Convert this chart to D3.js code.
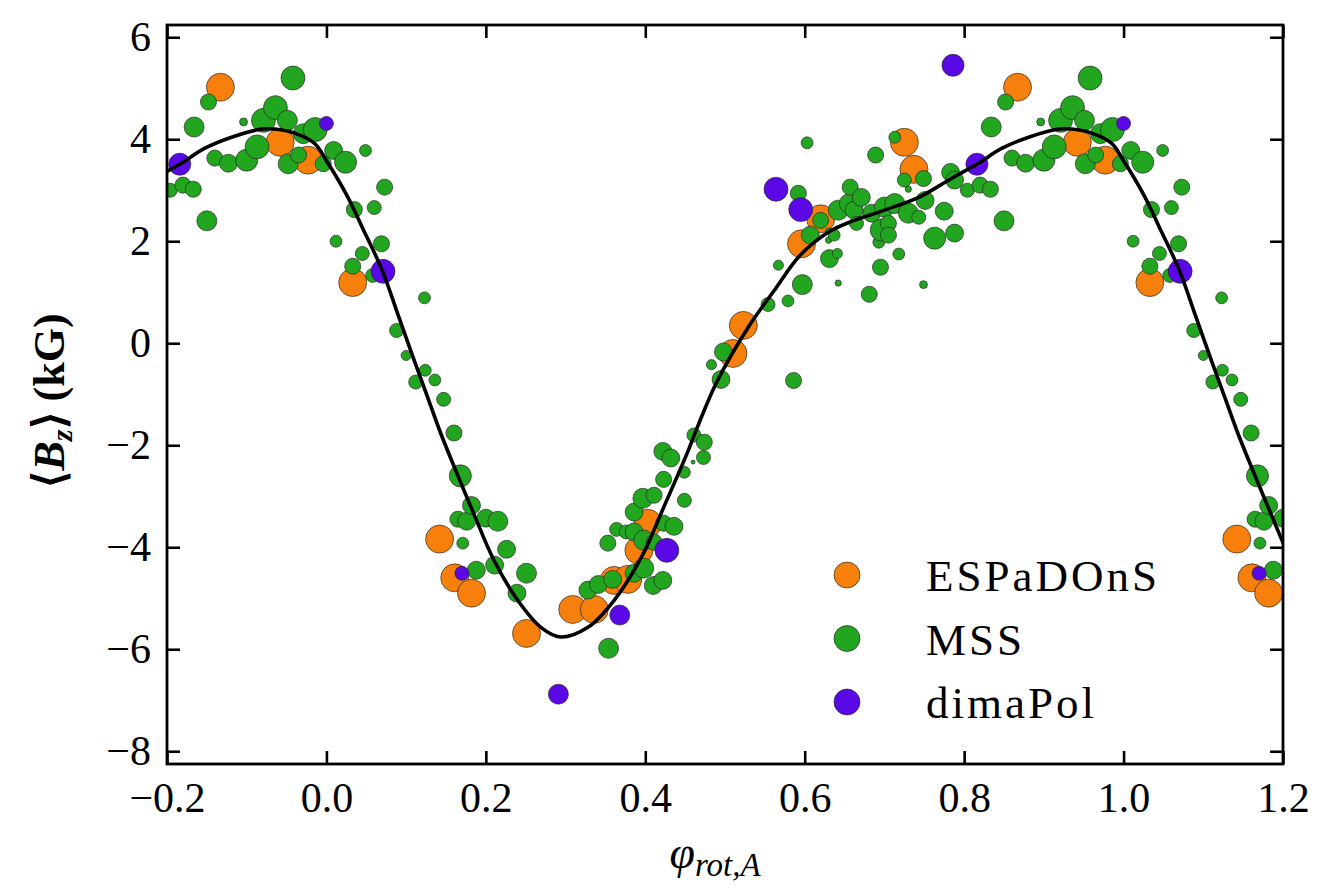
<!DOCTYPE html>
<html lang="en">
<head>
<meta charset="UTF-8">
<title>Bz rotation phase curve</title>
<script src="https://cdnjs.cloudflare.com/ajax/libs/d3/7.8.5/d3.min.js"></script>
<style>
body { margin: 0; background: #fff; }
.axis text { font-family: "Liberation Serif", serif; font-size: 42px; fill: #000; }
.axis line { stroke: #000; stroke-width: 2.6px; }
.axis path { display: none; }
.lbl { font-family: "Liberation Serif", serif; fill: #000; }
</style>
</head>
<body>
<script>

// rotation phase, <Bz> (kG) and relative weight of each measurement (phase folded into 0..1)
var espPhase = [0.033, 0.142, 0.161, 0.182, 0.251, 0.309, 0.336, 0.361, 0.378, 0.392,
                0.403, 0.510, 0.523, 0.596, 0.620, 0.725, 0.737, 0.867, 0.942, 0.977];
var espBz    = [1.19, -3.84, -4.60, -4.90, -5.69, -5.22, -5.22, -4.65, -4.63, -4.06,
                -3.53, -0.20, 0.35, 1.95, 2.44, 3.94, 3.41, 5.02, 3.94, 3.59];
var espW     = [100, 100, 100, 100, 100, 100, 100, 100, 100, 100,
                100, 100, 100, 100, 100, 100, 100, 100, 100, 100];

var mssPhase = [0.009, 0.012, 0.024, 0.033, 0.035, 0.045, 0.049, 0.058, 0.060, 0.069,
                0.073, 0.088, 0.100, 0.112, 0.123, 0.124, 0.136, 0.147, 0.160, 0.165,
                0.168, 0.171, 0.176, 0.182, 0.188, 0.200, 0.211, 0.215, 0.226, 0.239,
                0.251, 0.328, 0.341, 0.353, 0.354, 0.359, 0.364, 0.376, 0.386, 0.386,
                0.386, 0.397, 0.398, 0.398, 0.410, 0.411, 0.411, 0.422, 0.422, 0.423,
                0.423, 0.432, 0.436, 0.449, 0.449, 0.460, 0.461, 0.473, 0.474, 0.483,
                0.495, 0.498, 0.554, 0.567, 0.579, 0.586, 0.592, 0.597, 0.603, 0.607,
                0.620, 0.630, 0.630, 0.631, 0.637, 0.641, 0.642, 0.642, 0.656, 0.657,
                0.662, 0.665, 0.671, 0.681, 0.684, 0.689, 0.693, 0.695, 0.696, 0.700,
                0.705, 0.705, 0.713, 0.713, 0.718, 0.725, 0.730, 0.730, 0.743, 0.749,
                0.749, 0.751, 0.763, 0.775, 0.783, 0.788, 0.788, 0.804, 0.820, 0.833,
                0.834, 0.850, 0.852, 0.860, 0.877, 0.896, 0.900, 0.913, 0.921, 0.936,
                0.950, 0.951, 0.952, 0.958, 0.965, 0.971, 0.986, 0.996];
var mssBz    = [3.78, 2.00, 3.55, 1.51, 2.62, 1.76, 3.78, 1.33, 2.66, 1.95,
                3.06, 0.25, -0.24, -0.76, 0.89, -0.53, -0.72, -1.10, -1.76, -3.45,
                -2.60, -3.92, -3.49, -3.18, -4.45, -3.43, -4.35, -3.49, -4.04, -4.90,
                -4.51, -4.84, -4.73, -3.92, -5.98, -4.63, -3.65, -3.70, -4.51, -3.70,
                -3.31, -3.04, -4.41, -3.86, -4.75, -3.90, -2.98, -4.65, -2.12, -3.53,
                -2.67, -2.25, -3.59, -2.53, -3.08, -2.33, -1.80, -2.24, -1.94, -0.42,
                -0.71, -0.17, 0.76, 1.53, 0.83, -0.73, 2.94, 1.15, 3.93, 2.12,
                2.41, 2.02, 2.20, 1.66, 2.12, 1.76, 1.18, 2.61, 2.74, 3.06,
                2.61, 2.35, 2.86, 0.96, 2.55, 3.69, 1.98, 1.49, 2.22, 2.67,
                2.35, 2.12, 2.74, 4.04, 1.75, 3.20, 2.55, 3.02, 2.47, 3.23,
                1.15, 2.80, 2.06, 2.59, 3.35, 3.20, 2.16, 3.00, 3.10, 3.02,
                4.24, 2.40, 4.73, 3.63, 3.53, 4.34, 3.59, 3.85, 4.37, 4.62,
                4.35, 4.37, 3.52, 5.20, 3.69, 4.11, 4.19, 3.52];
var mssW     = [41, 18, 62, 33, 33, 25, 18, 25, 25, 33,
                33, 25, 13, 25, 18, 18, 18, 25, 33, 33,
                62, 18, 41, 41, 41, 41, 41, 51, 41, 41,
                51, 41, 41, 33, 51, 41, 25, 25, 41, 41,
                41, 51, 51, 51, 41, 33, 33, 41, 41, 33,
                33, 41, 41, 18, 25, 2, 25, 25, 33, 13,
                41, 41, 25, 13, 18, 33, 33, 51, 18, 41,
                33, 5, 5, 41, 18, 13, 5, 51, 51, 33,
                41, 25, 41, 33, 41, 33, 18, 33, 62, 51,
                33, 33, 51, 18, 18, 25, 51, 5, 25, 33,
                8, 41, 62, 41, 41, 41, 41, 25, 33, 33,
                51, 51, 33, 33, 41, 8, 62, 73, 73, 73,
                8, 51, 51, 73, 33, 51, 73, 33];

var dimaPhase = [0.000, 0.071, 0.170, 0.291, 0.368, 0.427, 0.564, 0.595, 0.786, 0.816];
var dimaBz    = [4.31, 1.41, -4.51, -6.88, -5.33, -4.06, 3.02, 2.62, 5.45, 3.51];
var dimaW     = [25, 73, 25, 51, 51, 73, 73, 73, 62, 62];

// model curve, one rotation cycle
var fitPhase = [0.000, 0.025, 0.045, 0.070, 0.090, 0.110, 0.127, 0.143, 0.165, 0.185,
                0.210, 0.240, 0.269, 0.294, 0.328, 0.361, 0.395, 0.423, 0.454, 0.466,
                0.490, 0.529, 0.562, 0.594, 0.630, 0.659, 0.700, 0.743, 0.784, 0.818,
                0.847, 0.881, 0.919, 0.935, 0.960, 0.985];
var fitBz    = [3.58, 2.92, 2.27, 1.43, 0.55, -0.33, -1.06, -1.75, -2.60, -3.35,
                -4.25, -5.04, -5.57, -5.76, -5.57, -5.04, -4.20, -3.22, -2.10, -1.62,
                -0.75, 0.31, 1.04, 1.72, 2.18, 2.39, 2.61, 2.86, 3.23, 3.53,
                3.82, 4.04, 4.20, 4.20, 4.12, 3.92];

var xTicks = [-0.2, 0.0, 0.2, 0.4, 0.6, 0.8, 1.0, 1.2];
var yTicks = [-8, -6, -4, -2, 0, 2, 4, 6];

var series = [
    {name: "ESPaDOnS", color: "#f77f0c", ph: espPhase, bz: espBz, w: espW},
    {name: "MSS", color: "#22a51f", ph: mssPhase, bz: mssBz, w: mssW},
    {name: "dimaPol", color: "#5b08e6", ph: dimaPhase, bz: dimaBz, w: dimaW}
];

var margin = {top: 25, right: 48, bottom: 130, left: 167},
    width = 1331 - margin.left - margin.right,
    height = 894 - margin.top - margin.bottom;

var x = d3.scaleLinear().domain([-0.2, 1.2]).range([0, width]);
var y = d3.scaleLinear().domain([-8.25, 6.24]).range([height, 0]);
var r = d3.scaleSqrt().domain([0, 100]).range([0, 14]);

var svg = d3.select("body").append("svg")
    .attr("width", width + margin.left + margin.right)
    .attr("height", height + margin.top + margin.bottom)
    .append("g")
    .attr("transform", "translate(" + margin.left + "," + margin.top + ")");

svg.append("clipPath").attr("id", "plotclip")
    .append("rect").attr("width", width).attr("height", height);

// repeat each phase one cycle either side so the -0.2..1.2 window is filled
function unfold(ph, bz, w) {
    var out = [];
    ph.forEach(function(p, i) {
        [-1, 0, 1].forEach(function(k) {
            var q = p + k;
            if (q > -0.3 && q < 1.3) out.push({phase: q, bz: bz[i], w: w ? w[i] : 0});
        });
    });
    return out;
}

var plot = svg.append("g").attr("clip-path", "url(#plotclip)");

series.forEach(function(s) {
    plot.append("g").selectAll("circle")
        .data(unfold(s.ph, s.bz, s.w))
        .enter()
        .append("circle")
        .attr("cx", function(d) { return x(d.phase); })
        .attr("cy", function(d) { return y(d.bz); })
        .attr("r", function(d) { return r(d.w); })
        .style("fill", s.color)
        .style("stroke", "#222")
        .style("stroke-opacity", 0.65)
        .style("stroke-width", 1);
});

var fit = unfold(fitPhase, fitBz).sort(function(a, b) { return a.phase - b.phase; });

var line = d3.line()
    .x(function(d) { return x(d.phase); })
    .y(function(d) { return y(d.bz); })
    .curve(d3.curveCatmullRom.alpha(0.5));

plot.append("path")
    .datum(fit)
    .attr("fill", "none")
    .attr("stroke", "#000")
    .attr("stroke-width", 3.6)
    .attr("stroke-linejoin", "round")
    .attr("d", line);

// axes, ticks pointing inward on all four sides
svg.append("g").attr("class", "axis")
    .attr("transform", "translate(0," + height + ")")
    .call(d3.axisBottom(x).tickValues(xTicks).tickSize(-13).tickPadding(18)
        .tickFormat(d3.format(".1f")));

svg.append("g").attr("class", "axis")
    .call(d3.axisTop(x).tickValues(xTicks).tickSize(-13).tickFormat(""));

svg.append("g").attr("class", "axis")
    .call(d3.axisLeft(y).tickValues(yTicks).tickSize(-13).tickPadding(16)
        .tickFormat(d3.format("d")));

svg.append("g").attr("class", "axis")
    .attr("transform", "translate(" + width + ",0)")
    .call(d3.axisRight(y).tickValues(yTicks).tickSize(-13).tickFormat(""));

svg.append("rect")
    .attr("width", width)
    .attr("height", height)
    .style("fill", "none")
    .style("stroke", "#000")
    .style("stroke-width", 2.8);

// legend
var legend = svg.append("g").attr("transform", "translate(680,550)");
series.forEach(function(s, i) {
    legend.append("circle")
        .attr("cx", 0)
        .attr("cy", i * 63.5)
        .attr("r", r(86))
        .style("fill", s.color)
        .style("stroke", "#222")
        .style("stroke-opacity", 0.65)
        .style("stroke-width", 1);
    legend.append("text")
        .attr("class", "lbl")
        .attr("x", 79)
        .attr("y", i * 63.5 + 16)
        .style("font-size", "45px")
        .style("letter-spacing", "3px")
        .text(s.name);
});

// axis labels
var xl = svg.append("text")
    .attr("class", "lbl")
    .attr("x", width / 2 - 10)
    .attr("y", height + 104)
    .attr("text-anchor", "middle")
    .style("font-style", "italic");
xl.append("tspan").style("font-size", "46px").text("φ");
xl.append("tspan").style("font-size", "33px").attr("dy", 8).text("rot,A");

var yl = svg.append("text")
    .attr("class", "lbl")
    .attr("transform", "translate(-103," + (height / 2 + 6) + ") rotate(-90)")
    .attr("text-anchor", "middle")
    .style("font-size", "44px")
    .style("font-weight", "bold");
yl.append("tspan").text("⟨");
yl.append("tspan").style("font-style", "italic").text("B");
yl.append("tspan").style("font-style", "italic").style("font-size", "30px").attr("dy", 8).text("z");
yl.append("tspan").attr("dy", -8).text("⟩ (kG)");

</script>
</body>
</html>
